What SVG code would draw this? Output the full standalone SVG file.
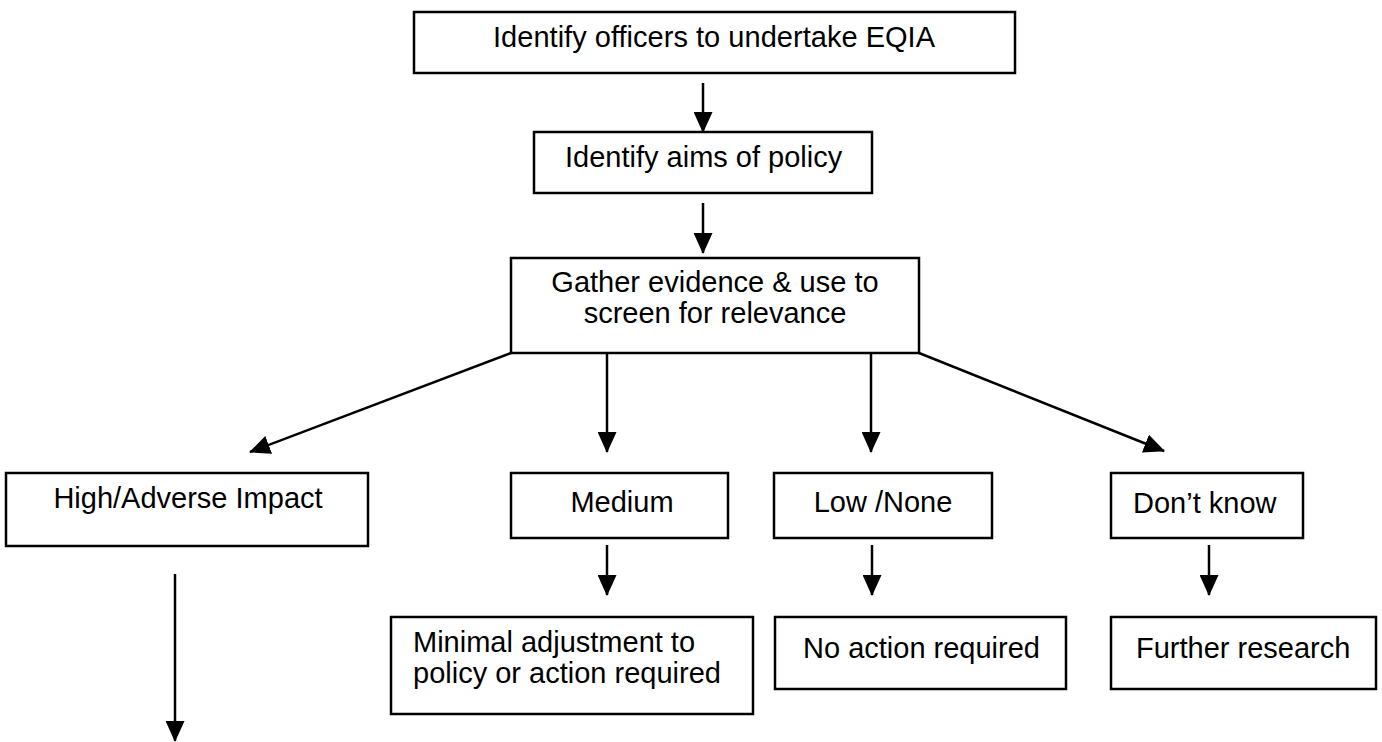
<svg xmlns="http://www.w3.org/2000/svg" width="1382" height="742" viewBox="0 0 1382 742">
<style>
.box{fill:#fff;stroke:#000;stroke-width:2.5}
.t{font-family:"Liberation Sans",Arial,sans-serif;font-size:29px;fill:#000}
.c{text-anchor:middle}
.ln{stroke:#000;stroke-width:2.5;fill:none;marker-end:url(#ah)}
</style>
<defs>
<marker id="ah" markerUnits="userSpaceOnUse" markerWidth="21" markerHeight="19" refX="20" refY="9.5" orient="auto" viewBox="0 0 21 19">
<path d="M0,0 L21,9.5 L0,19 z" fill="#000"/>
</marker>
</defs>
<rect width="1382" height="742" fill="#fff"/>
<g id="connectors">
<line class="ln" x1="703" y1="83" x2="703" y2="132"/>
<line class="ln" x1="703" y1="203" x2="703" y2="253"/>
<line class="ln" x1="511" y1="353" x2="250" y2="452"/>
<line class="ln" x1="607" y1="353" x2="607" y2="452"/>
<line class="ln" x1="871" y1="353" x2="871" y2="452"/>
<line class="ln" x1="919" y1="353" x2="1164" y2="451"/>
<line class="ln" x1="175" y1="574" x2="175" y2="741"/>
<line class="ln" x1="607" y1="545" x2="607" y2="595"/>
<line class="ln" x1="872" y1="545" x2="872" y2="595"/>
<line class="ln" x1="1209" y1="545" x2="1209" y2="595"/>
</g>
<g id="n1"><rect class="box" x="414" y="12" width="601" height="61"/><text class="t" x="493" y="47" textLength="442" lengthAdjust="spacing">Identify officers to undertake EQIA</text></g>
<g id="n2"><rect class="box" x="534" y="132" width="338" height="61"/><text class="t" x="565" y="167">Identify aims of policy</text></g>
<g id="n3"><rect class="box" x="511" y="258" width="408" height="95"/><text class="t c" x="715" y="292">Gather evidence &amp; use to</text><text class="t c" x="715" y="323">screen for relevance</text></g>
<g id="n4"><rect class="box" x="6" y="473" width="362" height="73"/><text class="t c" x="188" y="508">High/Adverse Impact</text></g>
<g id="n5"><rect class="box" x="511" y="473" width="217" height="65"/><text class="t c" x="622" y="512">Medium</text></g>
<g id="n6"><rect class="box" x="774" y="473" width="218" height="65"/><text class="t c" x="883" y="512">Low /None</text></g>
<g id="n7"><rect class="box" x="1111" y="473" width="192" height="65"/><text class="t" x="1133" y="513">Don’t know</text></g>
<g id="n8"><rect class="box" x="391" y="617" width="362" height="97"/><text class="t" x="413" y="652">Minimal adjustment to</text><text class="t" x="413" y="683">policy or action required</text></g>
<g id="n9"><rect class="box" x="775" y="617" width="291" height="72"/><text class="t" x="803" y="658">No action required</text></g>
<g id="n10"><rect class="box" x="1111" y="617" width="265" height="72"/><text class="t" x="1136" y="658">Further research</text></g>
</svg>
